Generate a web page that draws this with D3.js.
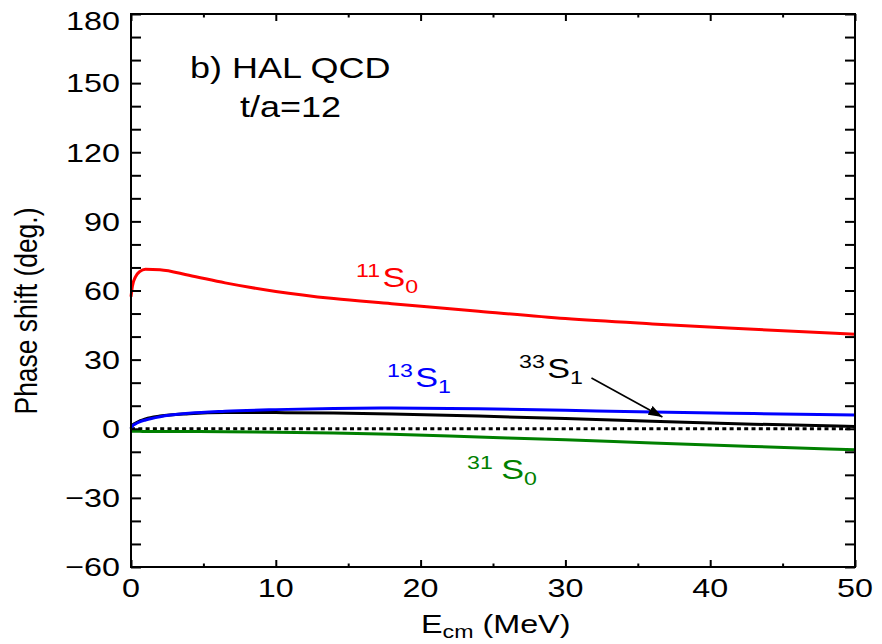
<!DOCTYPE html>
<html>
<head>
<meta charset="UTF-8">
<title>Phase shift, HAL QCD t/a=12</title>
<style>
  body { margin: 0; background: #fff; }
  svg { display: block; font-family: 'Liberation Sans', Arial, Helvetica, sans-serif; }
  .frame { fill: none; stroke: #000; stroke-width: 2px; }
  .tick line { stroke: #000; stroke-width: 2px; }
  .curve { fill: none; stroke-width: 3px; }
</style>
</head>
<body>
<div id="chart"></div>
<script src="https://d3js.org/d3.v7.min.js"></script>
<script>
// energies (MeV) the curves were read at
const energy = [0, 0.1, 0.3, 0.6, 1, 2, 4, 6.5, 10, 14, 18, 24, 30, 36, 43, 50];
// phase shifts (deg.)
const s11_0 = [57.3, 62.0, 65.8, 68.2, 69.2, 69.0, 66.6, 63.3, 59.6, 56.5, 54.3, 51.0, 47.8, 45.5, 43.2, 41.0];
const s13_1 = [0, 1.2, 2.1, 3.0, 3.8, 5.2, 6.7, 7.6, 8.3, 8.8, 9.0, 8.7, 8.0, 7.3, 6.6, 6.0];
const s33_1 = [0, 1.4, 2.4, 3.4, 4.3, 5.5, 6.5, 7.0, 7.0, 6.8, 6.4, 5.5, 4.4, 3.3, 2.0, 1.0];
const s31_0 = [-1.1, -1.1, -1.1, -1.1, -1.2, -1.2, -1.2, -1.3, -1.5, -1.8, -2.4, -3.6, -4.8, -6.2, -7.7, -9.1];

const xTicks = [0, 10, 20, 30, 40, 50];
const yTicks = [-60, -30, 0, 30, 60, 90, 120, 150, 180];

const W = 882, H = 644;
const SX = 1.22; // the glyphs in the picture are wide

const x = d3.scaleLinear().domain([0, 50]).range([131, 855]);
const y = d3.scaleLinear().domain([-60, 180]).range([567, 14]);

const svg = d3.select("#chart").append("svg")
  .attr("width", W).attr("height", H);

const fmt = d => d < 0 ? "\u2212" + Math.abs(d) : String(d);

// curves
const series = [
  { v: s11_0, color: "#ff0000" },
  { v: s31_0, color: "#008000" },
  { v: s33_1, color: "#000000" },
  { v: s13_1, color: "#0000ff" }
];
const line = d3.line().x((d, i) => x(energy[i])).y(d => y(d)).curve(d3.curveMonotoneX);

svg.append("line")
  .attr("x1", x(0)).attr("x2", x(50))
  .attr("y1", y(0)).attr("y2", y(0))
  .attr("stroke", "#000").attr("stroke-width", 3)
  .attr("stroke-dasharray", "4,3.3");

svg.selectAll(".curve").data(series).enter().append("path")
  .attr("class", "curve")
  .attr("stroke", d => d.color)
  .attr("d", d => line(d.v));

// axes: ticks point inward
const minorY = d3.range(-60, 181, 10);
svg.append("g").attr("transform", `translate(${x(0)},0)`)
  .call(d3.axisLeft(y).tickValues(minorY).tickSize(-10).tickFormat(""))
  .call(g => g.select(".domain").remove());
svg.append("g").attr("transform", `translate(${x(50)},0)`)
  .call(d3.axisRight(y).tickValues(minorY).tickSize(-10).tickFormat(""))
  .call(g => g.select(".domain").remove());

const minorX = d3.range(5, 50, 10);
[[d3.axisBottom, y(-60)], [d3.axisTop, y(180)]].forEach(([ax, ty]) => {
  svg.append("g").attr("transform", `translate(0,${ty})`)
    .call(ax(x).tickValues(xTicks).tickSize(-7).tickFormat(""))
    .call(g => g.select(".domain").remove());
  svg.append("g").attr("transform", `translate(0,${ty})`)
    .call(ax(x).tickValues(minorX).tickSize(-3.5).tickFormat(""))
    .call(g => g.select(".domain").remove());
});

svg.append("rect").attr("class", "frame")
  .attr("x", x(0)).attr("y", y(180))
  .attr("width", x(50) - x(0)).attr("height", y(-60) - y(180));

// tick labels
svg.append("g").selectAll("text").data(yTicks).enter().append("text")
  .attr("transform", d => `translate(120,${y(d) + (d === 180 ? 7 : 0)}) scale(${SX},1)`)
  .attr("text-anchor", "end").attr("dy", "0.35em")
  .attr("font-size", 26.5)
  .text(fmt);

svg.append("g").selectAll("text").data(xTicks).enter().append("text")
  .attr("transform", d => `translate(${x(d)},597) scale(${SX},1)`)
  .attr("text-anchor", "middle")
  .attr("font-size", 26.5)
  .text(fmt);

// axis titles
svg.append("text")
  .attr("transform", `translate(37,311) rotate(-90) scale(1,${SX})`)
  .attr("text-anchor", "middle").attr("font-size", 26.4)
  .text("Phase shift (deg.)");

const xt = svg.append("text")
  .attr("transform", `translate(421,633) scale(${SX},1)`)
  .attr("font-size", 26.5);
xt.append("tspan").text("E");
xt.append("tspan").attr("font-size", 19).attr("dy", 5).text("cm");
xt.append("tspan").attr("dy", -5).text(" (MeV)");

// panel title
svg.append("text").attr("transform", `translate(190,78) scale(${SX},1)`)
  .attr("font-size", 29.5).text("b) HAL QCD");
svg.append("text").attr("transform", `translate(240,117) scale(${SX},1)`)
  .attr("font-size", 29.5).text("t/a=12");

// wave labels
function waveLabel(px, py, sup, main, sub, color, gap) {
  const t = svg.append("text")
    .attr("transform", `translate(${px},${py}) scale(${SX},1)`)
    .attr("fill", color);
  t.append("tspan").attr("font-size", 19).attr("dy", -10.5).text(sup);
  t.append("tspan").attr("font-size", 28).attr("dx", gap).attr("dy", 10.5).text(main);
  t.append("tspan").attr("font-size", 19).attr("dy", 6).text(sub);
}
waveLabel(356, 287, "11", "S", "0", "#ff0000", 2);
waveLabel(387, 387, "13", "S", "1", "#0000ff", 2);
waveLabel(519, 378, "33", "S", "1", "#000000", 2);
waveLabel(467, 479, "31", "S", "0", "#008000", 7);

// arrow to the 33S1 curve
svg.append("defs").append("marker")
  .attr("id", "head").attr("viewBox", "0 0 14 10")
  .attr("refX", 14).attr("refY", 5)
  .attr("markerWidth", 14).attr("markerHeight", 10)
  .attr("markerUnits", "userSpaceOnUse").attr("orient", "auto")
  .append("path").attr("d", "M0,0L14,5L0,10Z").attr("fill", "#000");
svg.append("line")
  .attr("x1", x(31.8)).attr("y1", y(22.0))
  .attr("x2", x(36.7)).attr("y2", y(5.1))
  .attr("stroke", "#000").attr("stroke-width", 1.6)
  .attr("marker-end", "url(#head)");
</script>
</body>
</html>
